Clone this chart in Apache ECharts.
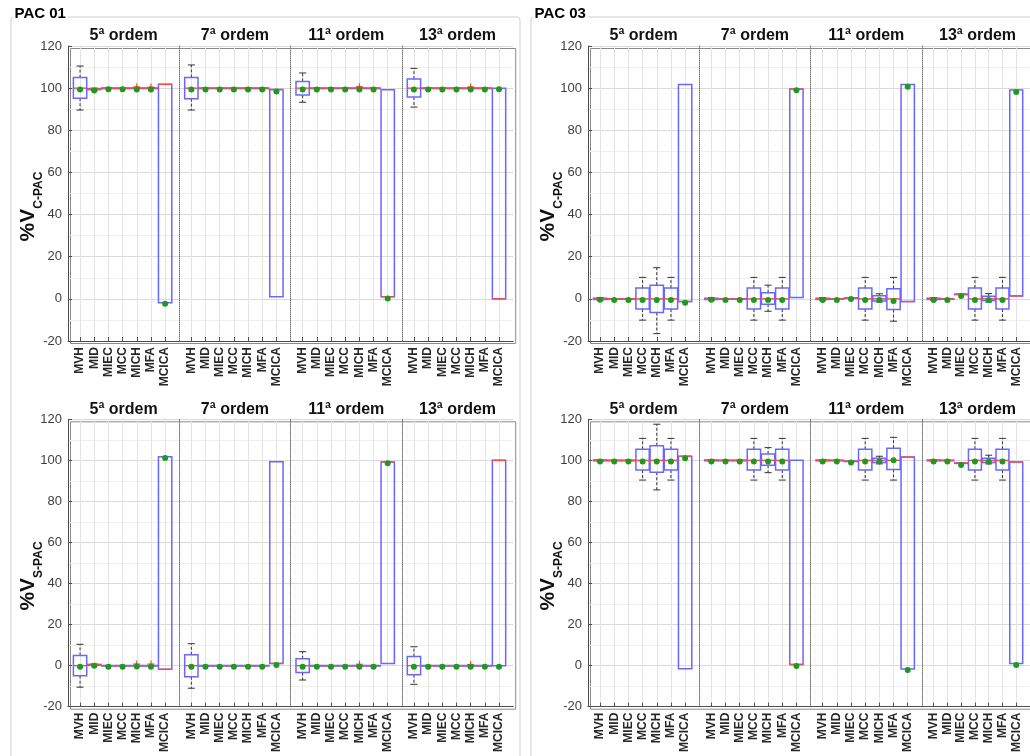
<!DOCTYPE html>
<html>
<head>
<meta charset="utf-8">
<script src="https://cdn.jsdelivr.net/npm/echarts@6/dist/echarts.min.js"></script>
<style>
  html, body { margin: 0; padding: 0; background: #ffffff; }
  #chart { width: 1030px; height: 756px; }
</style>
</head>
<body>
<div id="chart"></div>
<script>
// Categories, harmonic orders and tick values
const categories = ['MVH', 'MID', 'MIEC', 'MCC', 'MICH', 'MFA', 'MCICA'];
const orders = ['5ª ordem', '7ª ordem', '11ª ordem', '13ª ordem'];
const yTicks = [-20, 0, 20, 40, 60, 80, 100, 120];
const panelNames = ['PAC 01', 'PAC 03'];

// Box statistics per category: [lower whisker, Q1, median, Q3, upper whisker]
// PAC 01, %V C-PAC
const pac01_vc_5  = [[89.6,95.2,100,105,110.5],[99.0,99.3,99.6,99.8,100.0],[99.9,99.95,100,100.05,100.1],[99.9,99.95,100,100.05,100.1],[99.9,99.95,100,100.05,100.1],[99.9,99.95,100,100.05,100.1],[-1.8,-1.8,101.8,101.8,101.8]];
const pac01_vc_7  = [[89.6,95,100,105.1,111],[99.9,99.95,100,100.05,100.1],[99.9,99.95,100,100.05,100.1],[99.9,99.95,100,100.05,100.1],[99.9,99.95,100,100.05,100.1],[99.9,99.95,100,100.05,100.1],[1.0,1.0,99.3,99.3,99.3]];
const pac01_vc_11 = [[93.3,96.7,100,103.2,107.2],[99.9,99.95,100,100.05,100.1],[99.9,99.95,100,100.05,100.1],[99.9,99.95,100,100.05,100.1],[99.9,99.95,100,100.05,100.1],[99.9,99.95,100,100.05,100.1],[1.0,1.0,1.0,99.2,99.2]];
const pac01_vc_13 = [[91,95.8,100,104.3,109.4],[99.9,99.95,100,100.05,100.1],[99.9,99.95,100,100.05,100.1],[99.9,99.95,100,100.05,100.1],[99.9,99.95,100,100.05,100.1],[99.9,99.95,100,100.05,100.1],[0,0,0,100,100]];
const pac01_vc_mean = [
  [99.3, 98.9, 99.5, 99.5, 99.4, 99.4, -2.3],
  [99.3, 99.4, 99.4, 99.4, 99.4, 99.4, 98.4],
  [99.4, 99.4, 99.4, 99.4, 99.4, 99.4, 0.2],
  [99.4, 99.4, 99.4, 99.4, 99.4, 99.4, 99.5]
];
// outliers: [order index, category position, value]
const pac01_vc_out = [[0, 5, 100.6], [0, 6, 100.5], [2, 5, 100.7], [3, 5, 100.6]];

// PAC 01, %V S-PAC
const pac01_vs_5  = [[-10.5,-4.9,0,5.0,10.4],[-0.1,0.2,0.4,0.6,0.8],[-0.1,-0.05,0,0.05,0.1],[-0.1,-0.05,0,0.05,0.1],[-0.1,-0.05,0,0.05,0.1],[-0.1,-0.05,0,0.05,0.1],[-1.8,-1.8,-1.8,101.8,101.8]];
const pac01_vs_7  = [[-11,-5.4,0,5.3,10.7],[-0.1,-0.05,0,0.05,0.1],[-0.1,-0.05,0,0.05,0.1],[-0.1,-0.05,0,0.05,0.1],[-0.1,-0.05,0,0.05,0.1],[-0.1,-0.05,0,0.05,0.1],[1.1,1.1,1.1,99.3,99.3]];
const pac01_vs_11 = [[-7,-3.4,0,3.4,6.8],[-0.1,-0.05,0,0.05,0.1],[-0.1,-0.05,0,0.05,0.1],[-0.1,-0.05,0,0.05,0.1],[-0.1,-0.05,0,0.05,0.1],[-0.1,-0.05,0,0.05,0.1],[1.1,1.1,99.2,99.2,99.2]];
const pac01_vs_13 = [[-9.1,-4.4,0,4.4,9.2],[-0.1,-0.05,0,0.05,0.1],[-0.1,-0.05,0,0.05,0.1],[-0.1,-0.05,0,0.05,0.1],[-0.1,-0.05,0,0.05,0.1],[-0.1,-0.05,0,0.05,0.1],[0,0,100,100,100]];
const pac01_vs_mean = [
  [-0.5, -0.1, -0.5, -0.5, -0.4, -0.5, 101.2],
  [-0.5, -0.5, -0.5, -0.5, -0.5, -0.5, 0.3],
  [-0.5, -0.5, -0.5, -0.5, -0.5, -0.5, 98.6],
  [-0.5, -0.5, -0.5, -0.5, -0.5, -0.5, -0.5]
];
const pac01_vs_out = [[0, 5, 0.8], [0, 6, 0.8], [2, 5, 0.7], [3, 5, 0.6]];

// PAC 03, %V C-PAC
const pac03_vc_5  = [[-0.6,-0.3,0,0.3,0.6],[-0.1,-0.05,0,0.05,0.1],[-0.1,-0.05,0,0.05,0.1],[-10.1,-4.8,0,5.1,10.2],[-16.5,-6.5,0,6.5,14.8],[-10.1,-4.8,0,5.1,10.2],[-1.3,-1.3,-1.3,101.7,101.7]];
const pac03_vc_7  = [[-0.6,-0.3,0,0.3,0.6],[-0.1,-0.05,0,0.05,0.1],[-0.1,-0.05,0,0.05,0.1],[-10.1,-4.8,0,5.1,10.2],[-5.9,-2.5,0,2.9,6.5],[-10.1,-4.8,0,5.1,10.2],[0.6,0.6,99.6,99.6,99.6]];
const pac03_vc_11 = [[-0.6,-0.3,0,0.3,0.6],[-0.1,-0.05,0,0.05,0.1],[0.3,0.35,0.4,0.45,0.5],[-10.1,-4.8,0,5.1,10.2],[-1.5,-1.0,0,1.5,2.4],[-10.6,-5.1,0,4.8,10.2],[-1.3,-1.3,-1.3,101.7,101.7]];
const pac03_vc_13 = [[-0.6,-0.3,0,0.3,0.6],[-0.1,-0.05,0,0.05,0.1],[2.1,2.15,2.2,2.25,2.3],[-10.1,-4.8,0,5.1,10.2],[-1.5,-0.8,0,1.2,2.5],[-10.1,-4.8,0,5.1,10.2],[1.4,1.4,1.4,99.1,99.1]];
const pac03_vc_mean = [
  [-0.4, -0.5, -0.5, -0.5, -0.5, -0.5, -1.9],
  [-0.4, -0.5, -0.5, -0.5, -0.5, -0.5, 99.0],
  [-0.5, -0.5, -0.1, -0.5, -0.5, -1.0, 100.7],
  [-0.5, -0.5, 1.4, -0.5, -0.6, -0.5, 98.2]
];
const pac03_vc_out = [];

// PAC 03, %V S-PAC
const pac03_vs_5  = [[99.6,99.8,100,100.2,100.4],[99.9,99.95,100,100.05,100.1],[99.9,99.95,100,100.05,100.1],[90.4,95.3,100,105.4,110.7],[85.6,94.2,100,107.1,117.6],[90.4,95.3,100,105.4,110.7],[-1.5,-1.5,102,102,102]];
const pac03_vs_7  = [[99.6,99.8,100,100.2,100.4],[99.9,99.95,100,100.05,100.1],[99.9,99.95,100,100.05,100.1],[90.4,95.3,100,105.4,110.7],[94,97.6,100,103.1,106.2],[90.4,95.3,100,105.4,110.7],[0.6,0.6,0.6,100,100]];
const pac03_vs_11 = [[99.6,99.8,100,100.2,100.4],[99.9,99.95,100,100.05,100.1],[99.5,99.55,99.6,99.65,99.7],[90.4,95.3,100,105.4,110.7],[98.3,98.9,100,101,102],[90.4,95.6,100,105.9,111.2],[-1.6,-1.6,101.6,101.6,101.6]];
const pac03_vs_13 = [[99.6,99.8,100,100.2,100.4],[99.9,99.95,100,100.05,100.1],[98.6,98.65,98.7,98.75,98.8],[90.4,95.3,100,105.4,110.7],[98.3,98.9,100,101,102.5],[90.4,95.3,100,105.4,110.7],[1.1,1.1,99.2,99.2,99.2]];
const pac03_vs_mean = [
  [99.5, 99.5, 99.5, 99.5, 99.5, 99.5, 101.0],
  [99.5, 99.5, 99.5, 99.5, 99.5, 99.5, -0.2],
  [99.5, 99.5, 99.0, 99.5, 99.5, 100.0, -2.1],
  [99.5, 99.5, 97.7, 99.5, 99.3, 99.5, 0.3]
];
const pac03_vs_out = [];

// Layout of the two panels and their two rows of axes
const FONT = 'Liberation Sans, Arial, Helvetica, sans-serif';
const panelLeft = [68, 588];
const groupWidth = 111.3;
const rowTop = [46, 419.3];
const rowHeight = [295, 287.4];

const rows = [
  { panel: 0, row: 0, name: 'C-PAC', boxes: [pac01_vc_5, pac01_vc_7, pac01_vc_11, pac01_vc_13], means: pac01_vc_mean, out: pac01_vc_out },
  { panel: 0, row: 1, name: 'S-PAC', boxes: [pac01_vs_5, pac01_vs_7, pac01_vs_11, pac01_vs_13], means: pac01_vs_mean, out: pac01_vs_out },
  { panel: 1, row: 0, name: 'C-PAC', boxes: [pac03_vc_5, pac03_vc_7, pac03_vc_11, pac03_vc_13], means: pac03_vc_mean, out: pac03_vc_out },
  { panel: 1, row: 1, name: 'S-PAC', boxes: [pac03_vs_5, pac03_vs_7, pac03_vs_11, pac03_vs_13], means: pac03_vs_mean, out: pac03_vs_out }
];

const BOX_COLOR = '#6868ff';
const MEDIAN_COLOR = '#ff4a4a';
const MEAN_COLOR = '#1e9a1e';
const WHISKER_COLOR = '#333333';

function renderBox(params, api) {
  const x = api.value(0);
  const lo = api.value(1), q1 = api.value(2), md = api.value(3), q3 = api.value(4), hi = api.value(5), mn = api.value(6);
  const halfW = api.size([0.94, 0])[0] / 2;
  const capW = api.size([0.5, 0])[0] / 2;
  const pLo = api.coord([x, lo]), pQ1 = api.coord([x, q1]), pMd = api.coord([x, md]);
  const pQ3 = api.coord([x, q3]), pHi = api.coord([x, hi]), pMn = api.coord([x, mn]);
  const cx = pMd[0];
  const children = [];
  const dashed = { stroke: WHISKER_COLOR, lineWidth: 1, lineDash: [3, 2] };
  const solid = { stroke: WHISKER_COLOR, lineWidth: 1 };
  if (hi > q3) {
    children.push({ type: 'line', shape: { x1: cx, y1: pQ3[1], x2: cx, y2: pHi[1] }, style: dashed });
    children.push({ type: 'line', shape: { x1: cx - capW, y1: pHi[1], x2: cx + capW, y2: pHi[1] }, style: solid });
  }
  if (lo < q1) {
    children.push({ type: 'line', shape: { x1: cx, y1: pQ1[1], x2: cx, y2: pLo[1] }, style: dashed });
    children.push({ type: 'line', shape: { x1: cx - capW, y1: pLo[1], x2: cx + capW, y2: pLo[1] }, style: solid });
  }
  children.push({
    type: 'rect',
    shape: { x: cx - halfW, y: pQ3[1], width: halfW * 2, height: Math.max(pQ1[1] - pQ3[1], 0.5) },
    style: { fill: 'none', stroke: BOX_COLOR, lineWidth: 1.5 }
  });
  children.push({ type: 'line', shape: { x1: cx - halfW, y1: pMd[1], x2: cx + halfW, y2: pMd[1] }, style: { stroke: MEDIAN_COLOR, lineWidth: 1.4 } });
  children.push({ type: 'circle', shape: { cx: cx, cy: pMn[1], r: 3 }, style: { fill: MEAN_COLOR } });
  return { type: 'group', children: children };
}

function renderOutlier(params, api) {
  const p = api.coord([api.value(0), api.value(1)]);
  const s = 3.5;
  return {
    type: 'group',
    children: [
      { type: 'line', shape: { x1: p[0] - s, y1: p[1], x2: p[0] + s, y2: p[1] }, style: { stroke: '#ff2a2a', lineWidth: 1 } },
      { type: 'line', shape: { x1: p[0], y1: p[1] - s, x2: p[0], y2: p[1] + s }, style: { stroke: '#ff2a2a', lineWidth: 1 } }
    ]
  };
}

const grid = [], xAxis = [], yAxis = [], series = [], title = [], graphic = [];

// Panel frames with their captions
panelNames.forEach(function (name, p) {
  const fx = p === 0 ? 8.5 : 528.5;
  const fw = p === 0 ? 509 : 520;
  graphic.push({
    type: 'rect', left: fx, top: 14.5, z: 0,
    shape: { width: fw, height: 780, r: 3 },
    style: { fill: 'none', stroke: '#cfcfcf', lineWidth: 1 }
  });
  graphic.push({
    type: 'text', left: fx + 4, top: 6, z: 1,
    style: { text: name, font: 'bold 15px ' + FONT, fill: '#000', backgroundColor: '#fff', padding: [0, 2, 0, 2] }
  });
});

rows.forEach(function (r) {
  const left0 = panelLeft[r.panel];
  const top = rowTop[r.row];
  const height = rowHeight[r.row];

  // outer border of the row of axes
  graphic.push({
    type: 'rect', left: left0, top: top, z: 0, silent: true,
    shape: { width: groupWidth * 4, height: height },
    style: { fill: 'none', stroke: '#8a8a8a', lineWidth: 1 }
  });

  r.boxes.forEach(function (box, g) {
    const gi = grid.length;
    const left = left0 + g * groupWidth;
    grid.push({ left: left, top: top, width: groupWidth, height: height, containLabel: false });
    xAxis.push({
      type: 'value', gridIndex: gi, min: 0.15, max: 8,
      axisLine: { show: true, onZero: false, lineStyle: { color: '#4d4d4d', width: 1 } },
      axisTick: { show: true, inside: true, length: 4, customValues: [1, 2, 3, 4, 5, 6, 7], lineStyle: { color: '#4d4d4d' } },
      axisLabel: {
        show: true, customValues: [1, 2, 3, 4, 5, 6, 7], rotate: 90, margin: 6,
        fontFamily: FONT, fontSize: 12, fontWeight: 'bold', color: '#262626',
        formatter: function (v) { return categories[Math.round(v) - 1] || ''; }
      },
      splitLine: { show: true, lineStyle: { color: '#e4e4e4', width: 1 } }
    });
    const y = {
      type: 'value', gridIndex: gi, min: -20, max: 120, interval: 20,
      axisLine: { show: true, onZero: false, lineStyle: g === 0 ? { color: '#4d4d4d', width: 1 } : { color: '#777', width: 1, type: 'dotted' } },
      axisTick: { show: g === 0, inside: true, length: 4, lineStyle: { color: '#4d4d4d' } },
      axisLabel: { show: g === 0, margin: 6, fontFamily: FONT, fontSize: 13, color: '#404040' },
      splitLine: { show: true, lineStyle: { color: '#d9d9d9', width: 1 } },
      minorTick: { show: false, splitNumber: 2 },
      minorSplitLine: { show: true, lineStyle: { color: '#f0f0f0', width: 1 } }
    };
    if (g === 0) {
      // "%V" with the C-PAC / S-PAC subscript dropped below its baseline
      y.name = '{a|%V}{b|' + r.name + '}';
      y.nameLocation = 'middle';
      y.nameRotate = 90;
      y.nameGap = 23;
      y.nameMoveOverlap = false;
      y.nameTextStyle = {
        padding: [0, 26, 0, 0],
        rich: {
          a: { fontFamily: FONT, fontSize: 21, fontWeight: 'bold', color: '#111', lineHeight: 22, verticalAlign: 'top' },
          b: { fontFamily: FONT, fontSize: 12, fontWeight: 'bold', color: '#111', lineHeight: 27, verticalAlign: 'bottom' }
        }
      };
    }
    yAxis.push(y);

    title.push({
      text: orders[g], left: left + groupWidth / 2, top: top - 18, textAlign: 'center', padding: 0,
      textStyle: { fontFamily: FONT, fontSize: 16, fontWeight: 'bold', color: '#111' }
    });

    series.push({
      type: 'custom', xAxisIndex: gi, yAxisIndex: gi, z: 3,
      renderItem: renderBox,
      data: box.map(function (b, i) { return [i + 1].concat(b, [r.means[g][i]]); })
    });
    const outs = r.out.filter(function (o) { return o[0] === g; }).map(function (o) { return [o[1], o[2]]; });
    if (outs.length) {
      series.push({ type: 'custom', xAxisIndex: gi, yAxisIndex: gi, z: 2, renderItem: renderOutlier, data: outs });
    }
  });
});

const chart = echarts.init(document.getElementById('chart'), null, { renderer: 'canvas' });
chart.setOption({
  animation: false,
  backgroundColor: '#ffffff',
  title: title,
  grid: grid,
  xAxis: xAxis,
  yAxis: yAxis,
  series: series,
  graphic: graphic
});
</script>
</body>
</html>
